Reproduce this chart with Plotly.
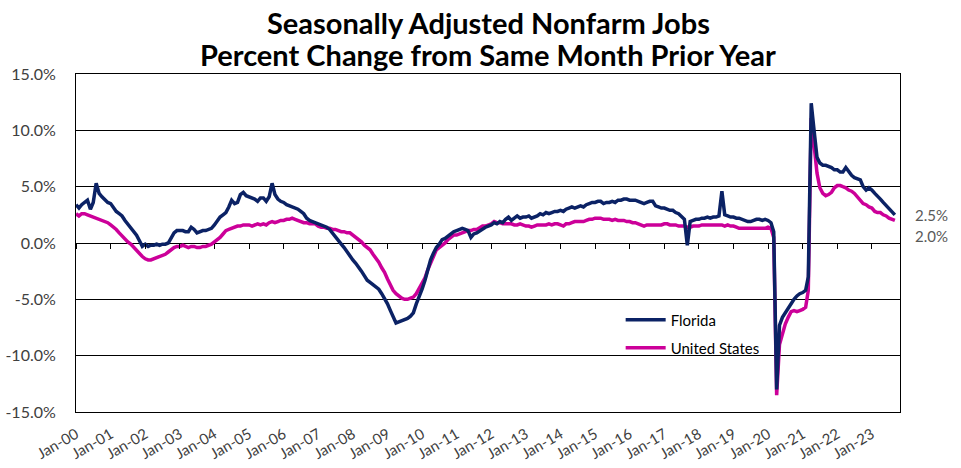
import pandas as pd
import plotly.graph_objects as go

# Monthly year-over-year % change, Jan 2000 - Sep 2023
START_MONTH = "2000-01-01"

florida = [
    3.4, 3.1, 3.4, 3.6, 3.8, 3.0, 3.6, 5.3, 4.4, 4.1, 3.8, 3.6,          # 2000
    3.5, 3.1, 2.8, 2.6, 2.4, 2.0, 1.7, 1.3, 1.0, 0.7, 0.2, -0.3,         # 2001
    -0.1, -0.3, -0.2, -0.2, -0.1, -0.2, -0.1, -0.1, 0.0, 0.5, 0.9, 1.1,  # 2002
    1.1, 1.1, 1.0, 1.0, 1.4, 1.2, 0.9, 1.0, 1.1, 1.1, 1.2, 1.3,          # 2003
    1.6, 2.0, 2.3, 2.5, 2.7, 3.2, 3.8, 3.5, 3.6, 4.3, 4.5, 4.2,          # 2004
    4.1, 4.0, 3.9, 3.7, 4.0, 4.0, 3.7, 4.1, 5.3, 4.3, 3.9, 3.7,          # 2005
    3.6, 3.4, 3.3, 3.2, 3.1, 3.0, 2.8, 2.6, 2.2, 2.0, 1.9, 1.8,          # 2006
    1.7, 1.6, 1.5, 1.4, 1.2, 0.9, 0.6, 0.2, -0.1, -0.4, -0.8, -1.1,      # 2007
    -1.5, -1.8, -2.1, -2.5, -2.9, -3.3, -3.5, -3.7, -3.9, -4.1, -4.5, -4.9,  # 2008
    -5.4, -6.0, -6.6, -7.1, -7.0, -6.9, -6.8, -6.7, -6.5, -6.2, -5.4, -4.8,  # 2009
    -4.1, -3.3, -2.4, -1.5, -0.9, -0.4, -0.1, 0.3, 0.4, 0.6, 0.8, 1.0,   # 2010
    1.1, 1.2, 1.3, 1.2, 1.1, 0.5, 0.8, 0.9, 1.1, 1.2, 1.4, 1.5,          # 2011
    1.6, 1.8, 1.7, 1.9, 1.8, 2.1, 2.3, 2.0, 2.2, 2.4, 2.2, 2.3,          # 2012
    2.3, 2.4, 2.2, 2.3, 2.4, 2.6, 2.5, 2.7, 2.6, 2.7, 2.8, 2.8,          # 2013
    2.9, 2.8, 3.0, 3.1, 3.2, 3.1, 3.2, 3.3, 3.2, 3.4, 3.5, 3.6,          # 2014
    3.6, 3.7, 3.7, 3.5, 3.6, 3.6, 3.7, 3.6, 3.8, 3.8, 3.9, 3.9,          # 2015
    3.8, 3.8, 3.8, 3.7, 3.6, 3.5, 3.6, 3.7, 3.7, 3.3, 3.2, 3.1,          # 2016
    3.1, 3.0, 2.9, 2.9, 2.7, 2.6, 2.4, 2.1, -0.2, 1.9, 2.0, 2.1,         # 2017
    2.1, 2.2, 2.2, 2.3, 2.2, 2.3, 2.3, 2.4, 4.6, 2.5, 2.4, 2.3,          # 2018
    2.3, 2.2, 2.2, 2.1, 2.0, 1.9, 1.9, 2.0, 2.1, 2.1, 2.0, 2.1,          # 2019
    2.0, 1.8, 1.0, -13.0, -7.3, -6.6, -6.2, -5.8, -5.3, -5.0, -4.7, -4.5,  # 2020
    -4.4, -4.2, -3.0, 12.4, 10.0, 7.6, 7.1, 6.9, 6.9, 6.8, 6.7, 6.5,     # 2021
    6.5, 6.3, 6.3, 6.7, 6.3, 6.0, 5.8, 5.7, 5.6, 5.0, 4.7, 4.9,          # 2022
    4.7, 4.4, 4.2, 3.9, 3.6, 3.3, 3.1, 2.8, 2.5,                         # 2023
]

united_states = [
    2.6, 2.4, 2.6, 2.6, 2.5, 2.4, 2.3, 2.2, 2.1, 2.0, 1.9, 1.8,          # 2000
    1.6, 1.4, 1.2, 0.9, 0.6, 0.3, 0.1, -0.1, -0.4, -0.7, -1.0, -1.2,     # 2001
    -1.4, -1.5, -1.5, -1.4, -1.3, -1.2, -1.1, -1.0, -0.8, -0.6, -0.4, -0.3,  # 2002
    -0.3, -0.2, -0.3, -0.4, -0.3, -0.3, -0.4, -0.4, -0.3, -0.3, -0.2, -0.1,  # 2003
    0.1, 0.3, 0.5, 0.8, 1.1, 1.2, 1.3, 1.4, 1.5, 1.5, 1.6, 1.6,          # 2004
    1.6, 1.5, 1.6, 1.7, 1.6, 1.7, 1.6, 1.8, 1.9, 1.8, 1.9, 2.0,          # 2005
    2.0, 2.1, 2.1, 2.2, 2.1, 2.0, 1.9, 1.8, 1.8, 1.7, 1.7, 1.7,          # 2006
    1.5, 1.4, 1.4, 1.3, 1.3, 1.2, 1.2, 1.1, 1.0, 1.0, 0.9, 0.9,          # 2007
    0.7, 0.5, 0.3, 0.1, -0.2, -0.4, -0.6, -1.0, -1.3, -1.7, -2.2, -2.6,  # 2008
    -3.2, -3.7, -4.2, -4.5, -4.7, -4.9, -5.0, -5.0, -4.9, -4.8, -4.5, -4.0,  # 2009
    -3.6, -3.1, -2.4, -1.8, -1.2, -0.6, -0.4, -0.2, 0.0, 0.3, 0.5, 0.7,  # 2010
    0.7, 0.8, 0.9, 1.0, 1.1, 1.1, 1.2, 1.2, 1.4, 1.5, 1.5, 1.6,          # 2011
    1.7, 1.9, 1.8, 1.8, 1.7, 1.7, 1.7, 1.7, 1.6, 1.6, 1.7, 1.6,          # 2012
    1.5, 1.5, 1.4, 1.5, 1.6, 1.6, 1.6, 1.6, 1.7, 1.6, 1.7, 1.7,          # 2013
    1.6, 1.5, 1.7, 1.7, 1.8, 1.9, 1.9, 1.9, 1.9, 2.0, 2.1, 2.1,          # 2014
    2.2, 2.2, 2.2, 2.1, 2.1, 2.1, 2.0, 2.1, 2.0, 2.0, 2.0, 1.9,          # 2015
    1.9, 1.8, 1.8, 1.7, 1.6, 1.5, 1.6, 1.6, 1.6, 1.6, 1.6, 1.6,          # 2016
    1.7, 1.7, 1.6, 1.6, 1.6, 1.5, 1.5, 1.5, 1.4, 1.4, 1.5, 1.5,          # 2017
    1.5, 1.6, 1.6, 1.6, 1.6, 1.6, 1.6, 1.6, 1.6, 1.5, 1.6, 1.5,          # 2018
    1.5, 1.4, 1.3, 1.3, 1.3, 1.3, 1.3, 1.3, 1.3, 1.3, 1.3, 1.3,          # 2019
    1.4, 1.3, 0.5, -13.5, -9.0, -8.0, -7.2, -6.6, -6.1, -6.0, -6.1, -6.0,  # 2020
    -5.9, -5.7, -4.2, 11.1, 8.7, 6.2, 4.9, 4.4, 4.2, 4.3, 4.5, 4.9,      # 2021
    5.1, 5.1, 5.0, 4.9, 4.7, 4.6, 4.4, 4.1, 3.9, 3.5, 3.4, 3.2,          # 2022
    3.1, 2.8, 2.7, 2.7, 2.5, 2.4, 2.2, 2.1, 2.0,                         # 2023
]

y_tick_values = [15, 10, 5, 0, -5, -10, -15]
y_tick_labels = ["15.0%", "10.0%", "5.0%", "0.0%", "-5.0%", "-10.0%", "-15.0%"]

title_lines = ["Seasonally Adjusted Nonfarm Jobs", "Percent Change from Same Month Prior Year"]

months = pd.date_range(START_MONTH, periods=len(florida), freq="MS")

FONT = "Lato, 'Noto Sans', 'DejaVu Sans', sans-serif"
FL_COLOR = "#0B2265"
US_COLOR = "#CC0099"

fig = go.Figure()
fig.add_trace(go.Scatter(
    x=months, y=united_states, name="United States", mode="lines",
    line=dict(color=US_COLOR, width=3.5), legend="legend2",
))
fig.add_trace(go.Scatter(
    x=months, y=florida, name="Florida", mode="lines",
    line=dict(color=FL_COLOR, width=3.5), legend="legend",
))
# invisible carrier trace for the tick-mark axis drawn along the 0% line
fig.add_trace(go.Scatter(
    x=months, y=florida, xaxis="x2", mode="lines",
    line=dict(width=0), showlegend=False, hoverinfo="skip", opacity=0,
))

x_range = ["2000-01-01", "2023-10-25"]

fig.update_layout(
    width=961, height=468,
    margin=dict(l=76, r=61, t=74, b=56),
    paper_bgcolor="white", plot_bgcolor="white",
    font=dict(family=FONT, color="#404040"),
    xaxis=dict(
        type="date", range=x_range, automargin=False,
        tick0=START_MONTH, dtick="M12", tickformat="%b-%y",
        tickangle=-30, ticks="", showgrid=False,
        showline=True, linecolor="black", linewidth=1, mirror=True,
        tickfont=dict(family=FONT, size=15, color="#404040"),
        ticklabelstandoff=7,
        zeroline=False,
    ),
    xaxis2=dict(
        type="date", matches="x", overlaying="x", automargin=False,
        anchor="free", position=0.5, side="bottom",
        tick0=START_MONTH, dtick="M12",
        ticks="outside", ticklen=5, tickwidth=1, tickcolor="black",
        showticklabels=False, showgrid=False, showline=False, zeroline=False,
    ),
    yaxis=dict(
        range=[-15, 15], tickvals=y_tick_values, ticktext=y_tick_labels,
        automargin=False,
        showgrid=True, gridcolor="black", gridwidth=1,
        showline=True, linecolor="black", linewidth=1, mirror=True,
        zeroline=False, ticks="", ticklabelstandoff=16,
        tickfont=dict(family=FONT, size=16, color="#404040"),
    ),
    legend=dict(
        x=0.661, y=0.272, xanchor="left", yanchor="middle",
        bgcolor="rgba(255,255,255,0)", font=dict(family=FONT, size=15, color="black"),
        itemwidth=40,
    ),
    legend2=dict(
        x=0.661, y=0.189, xanchor="left", yanchor="middle",
        bgcolor="rgba(255,255,255,0)", font=dict(family=FONT, size=15, color="black"),
        itemwidth=40,
    ),
    showlegend=True,
)

for line_text, shift in zip(title_lines, [52, 20]):
    fig.add_annotation(
        x=0.5, xref="paper", xanchor="center",
        y=1, yref="paper", yanchor="middle", yshift=shift,
        text=line_text, showarrow=False,
        font=dict(family=FONT, size=29, color="black", weight="bold"),
    )

fig.add_annotation(
    x=1, xref="paper", xanchor="left", xshift=13,
    y=florida[-1], yref="y", yanchor="middle",
    text=f"{florida[-1]:.1f}%", showarrow=False,
    font=dict(family=FONT, size=15, color="#595959"),
)
fig.add_annotation(
    x=1, xref="paper", xanchor="left", xshift=13,
    y=united_states[-1], yref="y", yanchor="middle", yshift=-16,
    text=f"{united_states[-1]:.1f}%", showarrow=False,
    font=dict(family=FONT, size=15, color="#595959"),
)

# remove the default 8px page margin so the figure sits at the window's corner
fig.write_html(
    "out.html",
    config={"displayModeBar": False},
    post_script="document.body.style.margin='0px';",
)
